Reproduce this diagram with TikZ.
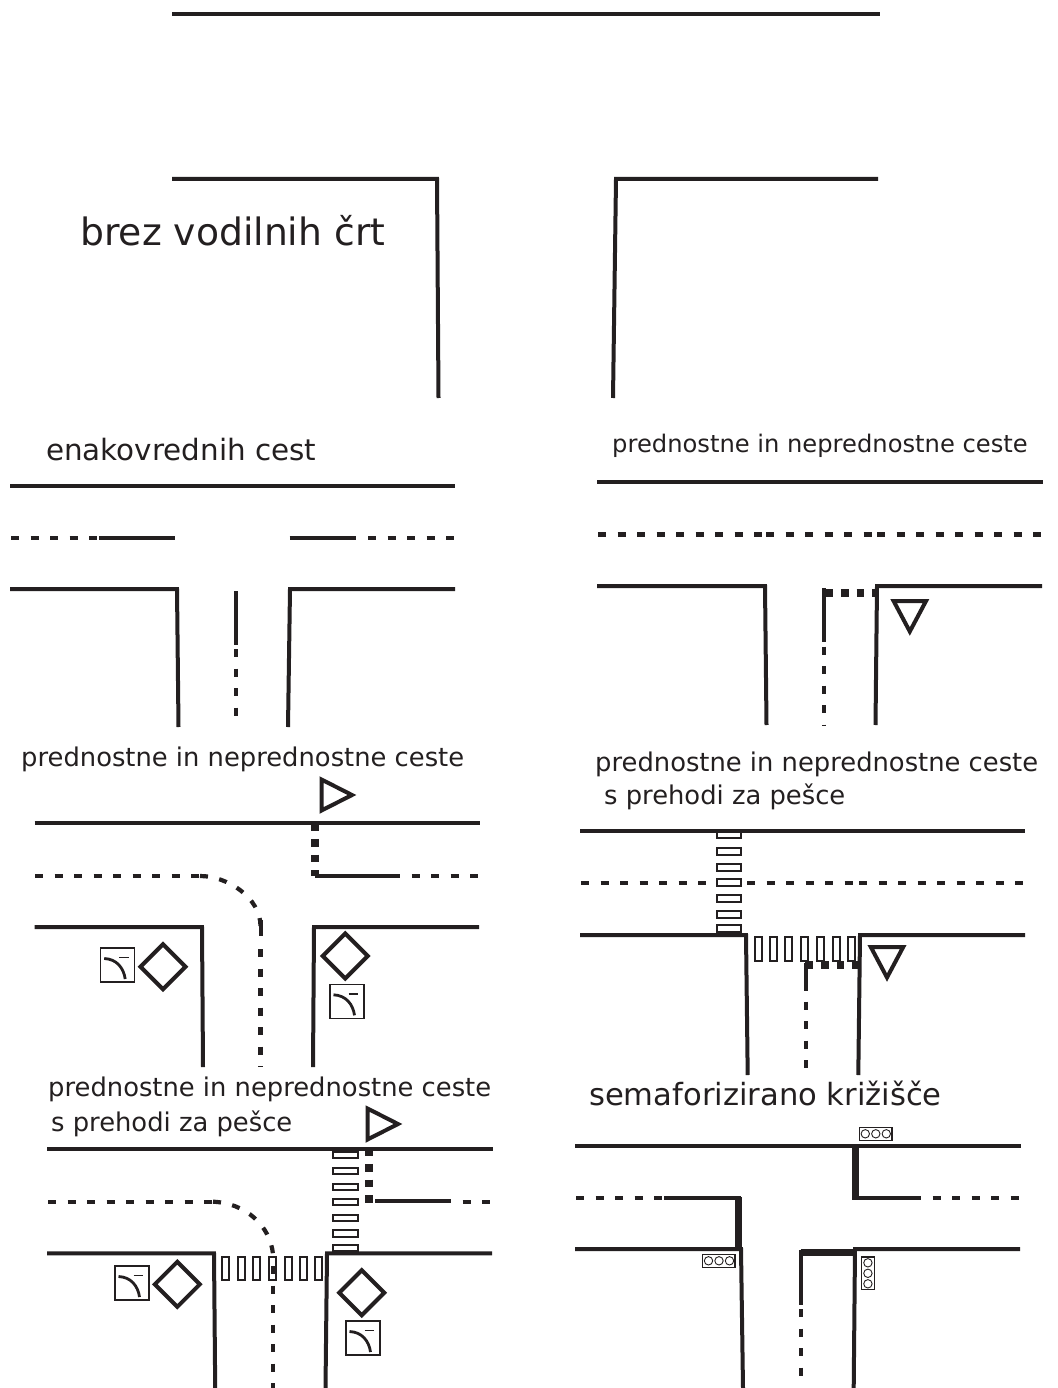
\documentclass[tikz,border=0pt]{standalone}
\usepackage{fontspec}
\setmainfont{DejaVu Sans}
\definecolor{ink}{HTML}{231F20}
\tikzset{
    road/.style={draw=ink,line width=4pt,line cap=butt,line join=miter},
    lane/.style={draw=ink,line width=4.2pt,dash pattern=on 8pt off 11.5pt},
    stopline/.style={draw=ink,line width=7.5pt},
    stopdots/.style={draw=ink,line width=7.8pt,dash pattern=on 7.7pt off 8.1pt},
    zebra/.style={draw=ink,line width=2pt},
    sign/.style={draw=ink,line width=4pt,line join=miter},
    thin box/.style={draw=ink,line width=1.4pt},
    big label/.style={anchor=base west,inner sep=0pt,text=ink,font=\fontsize{37.7}{44}\selectfont},
    mid label/.style={anchor=base west,inner sep=0pt,text=ink,font=\fontsize{29.4}{34}\selectfont},
    small label/.style={anchor=base west,inner sep=0pt,text=ink,font=\fontsize{25.8}{30}\selectfont},
    priority/.pic={\draw[sign] (0,-22.5) -- (22.5,0) -- (0,22.5) -- (-22.5,0) -- cycle;},
    yield down/.pic={\draw[sign] (-16.2,-15) -- (16.2,-15) -- (0,15.5) -- cycle;},
    yield right/.pic={\draw[sign] (-15,-15.5) -- (15.5,0) -- (-15,15.5) -- cycle;},
    turn plate/.pic={
        \draw[thin box] (0,0) rectangle (34,34);
        \draw[ink,line width=2.8pt] (3.5,10.5) .. controls (16,11) and (23,20) .. (24.5,31);
        \draw[ink,line width=1.4pt] (18.5,9.5) -- (28,9.5);
    },
    lamps across/.pic={
        \draw[thin box] (0,0) rectangle (32.5,12.7);
        \foreach \cx in {6,16.5,27} \draw[ink,line width=.9pt] (\cx,6.3) circle (4.2);
    },
    lamps along/.pic={
        \draw[thin box] (0,0) rectangle (12.5,32.5);
        \foreach \cy in {6,16.5,27} \draw[ink,line width=.9pt] (6.2,\cy) circle (4.2);
    }
}
\begin{document}
\begin{tikzpicture}[x=1pt,y=-1pt]
    \useasboundingbox (0,0) rectangle (1057,1388);

    % brez vodilnih crt
    \draw[road] (172,14) -- (880,14);
    \draw[road] (172,179) -- (437,179) -- (438.5,398);
    \draw[road] (878,179) -- (616,179) -- (613,398);
    \node[big label] (titleA) at (80,245) {brez vodilnih črt};

    % enakovrednih cest
    \node[mid label] (titleB) at (46,460) {enakovrednih cest};
    \draw[road] (10,485.5) -- (455,485.5);
    \draw[lane] (11,538) -- (99,538);
    \draw[road] (99,538) -- (175,538);
    \draw[road] (289.5,538) -- (356,538);
    \draw[lane] (368,538) -- (455,538);
    \draw[road] (10,589) -- (177,589) -- (178.5,727);
    \draw[road] (455,589) -- (290,589) -- (288,727);
    \draw[road] (236,591) -- (236,645);
    \draw[lane] (236,649) -- (236,716);

    % prednostna cesta, znak desno
    \node[small label,font=\fontsize{24.2}{30}\selectfont] (titleC) at (612,452) {prednostne in neprednostne ceste};
    \draw[road] (597,482) -- (1043,482);
    \draw[lane] (598,534.5) -- (764,534.5);
    \draw[lane] (766,534.5) -- (873,534.5);
    \draw[lane] (877,534.5) -- (1042,534.5);
    \draw[road] (597,586) -- (765,586) -- (766.5,725);
    \draw[road] (1042,586) -- (877,586) -- (875.5,725);
    \draw[road] (824,588) -- (824,642);
    \draw[lane] (824,646.5) -- (824,725.5);
    \draw[stopdots] (825,593.3) -- (877,593.3);
    \pic at (909.8,616) {yield down};

    % prednostna cesta zavija
    \node[small label] (titleD) at (21,766) {prednostne in neprednostne ceste};
    \draw[road] (34.5,823) -- (480,823);
    \draw[lane] (35,876) -- (200,876);
    \draw[lane] (200,876) .. controls (227.8,876) and (260.5,898) .. (260.5,926);
    \draw[road] (260.5,920) -- (260.5,936);
    \draw[lane] (260.5,949) -- (260.5,1067);
    \draw[stopdots] (314.7,823) -- (314.7,876);
    \draw[road] (315,876) -- (392,876);
    \draw[lane] (392,876) -- (479,876);
    \draw[road] (34.5,927) -- (202,927) -- (203,1067);
    \draw[road] (479,927) -- (314,927) -- (313,1067);
    \pic at (336.5,795) {yield right};
    \pic at (163,966.7) {priority};
    \pic at (345.3,956) {priority};
    \pic at (100.7,948) {turn plate};
    \pic at (330,984.3) {turn plate};

    % s prehodi za pesce, desno
    \node[small label] (titleE) at (595,771) {prednostne in neprednostne ceste};
    \node[small label] (subE) at (604,804) {s prehodi za pešce};
    \draw[road] (580,830.7) -- (1025,830.7);
    \draw[lane] (581,883.3) -- (708,883.3);
    \draw[lane] (747,883.3) -- (855,883.3);
    \draw[lane] (859,883.3) -- (1024,883.3);
    \draw[road] (580,935) -- (746,935) -- (747.7,1075);
    \draw[road] (1025,935) -- (860,935) -- (858.3,1075);
    \foreach \zy in {831,847.5,863.5,879,895,911,925}
        \draw[zebra] (716.5,\zy) rectangle ++(24.5,7);
    \foreach \zx in {754.8,769.8,784.8,800.8,816.8,832.5,848}
        \draw[zebra] (\zx,936.5) rectangle ++(7,24);
    \draw[road] (806,963) -- (806,991);
    \draw[lane] (806,1001.7) -- (806,1069);
    \draw[stopdots] (805,965.3) -- (858.5,965.3);
    \pic at (887,962) {yield down};

    % s prehodi za pesce, levo
    \node[small label] (titleF) at (48,1096) {prednostne in neprednostne ceste};
    \node[small label] (subF) at (51,1131) {s prehodi za pešce};
    \draw[road] (47,1149) -- (493,1149);
    \draw[lane] (48,1201.7) -- (213,1201.7);
    \draw[lane] (213,1201.7) .. controls (245,1203) and (270,1225) .. (273,1254);
    \draw[lane] (273,1266.2) -- (273,1388);
    \foreach \zy in {1151.5,1167.5,1183.5,1198.5,1214.8,1230,1244.8}
        \draw[zebra] (333,\zy) rectangle ++(24.5,6.5);
    \foreach \zx in {221.5,237.5,253,269,284.8,300,315}
        \draw[zebra] (\zx,1256.5) rectangle ++(7,23.5);
    \draw[stopdots] (369,1148) -- (369,1203);
    \draw[road] (375,1201.3) -- (451,1201.3);
    \draw[lane] (462.7,1201.7) -- (492,1201.7);
    \draw[road] (47,1253.3) -- (214,1253.3) -- (215.2,1388);
    \draw[road] (492,1253.3) -- (327,1253.3) -- (325.5,1388);
    \pic at (382.5,1124) {yield right};
    \pic at (177.3,1284.3) {priority};
    \pic at (361.7,1292.7) {priority};
    \pic at (115,1266) {turn plate};
    \pic at (346,1321) {turn plate};

    % semaforizirano krizisce
    \node[big label,font=\fontsize{30.6}{36}\selectfont] (titleG) at (589,1105) {semaforizirano križišče};
    \draw[road] (575,1145.7) -- (1021,1145.7);
    \draw[lane] (576,1198) -- (662,1198);
    \draw[road] (664,1198) -- (741,1198);
    \draw[stopline] (738.3,1197) -- (738.3,1249);
    \draw[road] (575,1249) -- (741,1249) -- (743,1388);
    \draw[stopline] (855.3,1146) -- (855.3,1199);
    \draw[road] (852,1198) -- (921,1198);
    \draw[lane] (932.7,1198) -- (1020,1198);
    \draw[road] (1020,1249) -- (855,1249) -- (853.7,1388);
    \draw[stopline] (800.7,1252.7) -- (855,1252.7);
    \draw[road] (801,1250) -- (801,1305);
    \draw[lane] (801,1309) -- (801,1377);
    \pic at (859.3,1127.5) {lamps across};
    \pic at (702.5,1254.5) {lamps across};
    \pic at (861.7,1256.8) {lamps along};
\end{tikzpicture}
\end{document}
